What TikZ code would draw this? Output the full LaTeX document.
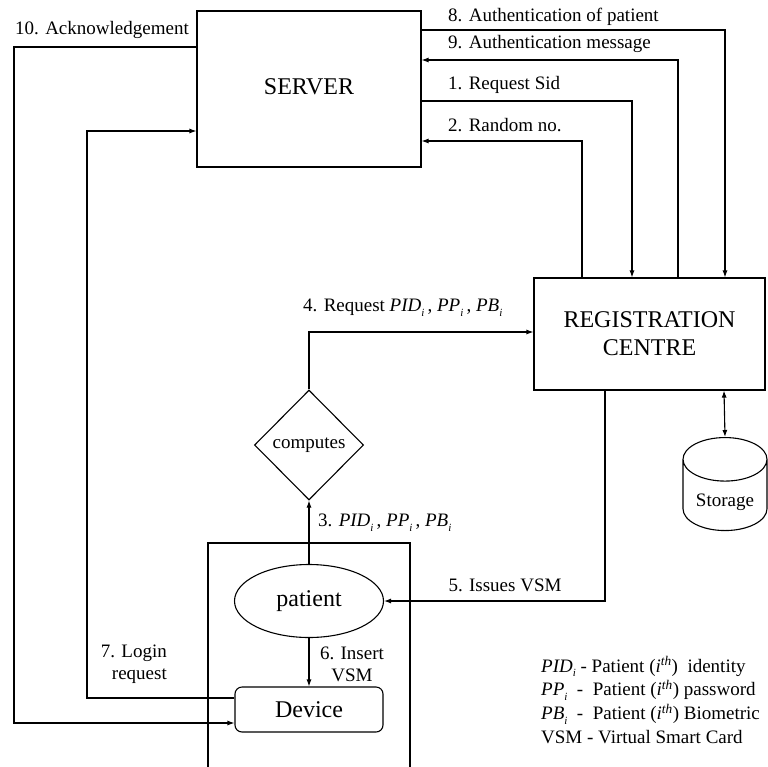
\documentclass[tikz,border=0pt]{standalone}
\usepackage{fontspec}
\setmainfont{Liberation Serif}
\usetikzlibrary{arrows.meta,calc,positioning,shapes.geometric}

% italic symbol with a low subscript i
\newcommand{\symi}[1]{\textit{#1}\raisebox{-0.55ex}{\fontsize{11}{11}\selectfont\textit{i}}}
\newcommand{\ith}{(\textit{i}\textsuperscript{\textit{th}})}

\tikzset{
  box/.style={draw,line width=1.1pt,inner sep=0pt,font=\fontsize{24}{28}\selectfont},
  lbl/.style={inner sep=0pt,font=\fontsize{19}{22}\selectfont},
  wire/.style={line width=1.1pt},
  arr/.style={wire,-{Latex[length=7pt,width=5pt]}}
}

\begin{document}
\begin{tikzpicture}[x=1pt,y=-1pt]
  \useasboundingbox (0,0) rectangle (768,766);

  % main blocks
  \node[box,minimum width=224,minimum height=156] (server) at (309,89)
    {\raisebox{5pt}{SERVER}};
  \node[box,minimum width=231,minimum height=112,align=center]
    (reg) at (649.5,334) {REGISTRATION\\CENTRE};
  \node[box,diamond,minimum width=109,minimum height=110,
    font=\fontsize{19}{22}\selectfont] (comp) at (309,445) {computes};
  \node[box,ellipse,minimum width=149,minimum height=73] (patient) at (309,601) {patient};
  \node[box,rounded corners=7pt,minimum width=148,minimum height=45]
    (device) at (309,709.5) {Device};
  \node[box,cylinder,shape border rotate=90,aspect=0.75,minimum width=84,
    minimum height=93,anchor=north,font=\fontsize{19}{22}\selectfont] (stor) at (725,437)
    {\raisebox{-11.5pt}[0pt][0pt]{Storage}};

  % patient side frame
  \draw[wire] (208,772) -- (208,543) -- (410,543) -- (410,772);

  % server <-> registration centre
  \draw[arr] (server.east |- 0,30) -| (reg.north -| 725,0);
  \draw[arr] (reg.north -| 678,0) |- (server.east |- 0,60);
  \draw[arr] (server.east |- 0,101) -| (reg.north -| 632,0);
  \draw[arr] (reg.north -| 582,0) |- (server.east |- 0,141);
  \node[lbl,anchor=west] (l8) at (448,17) {8. Authentication of patient};
  \node[lbl,anchor=west] (l9) at (448,44) {9. Authentication message};
  \node[lbl,anchor=west] (l1) at (448,85) {1. Request Sid};
  \node[lbl,anchor=west] (l2) at (448,125) {2. Random no.};

  % patient flow
  \draw[arr] (patient.north) -- (comp.south);
  \node[lbl,anchor=west] (l3) at (318,523) {3. \symi{PID}\,, \symi{PP}\,, \symi{PB}};
  \draw[arr] (comp.north) |- (reg.west |- 0,332);
  \node[lbl,anchor=west] (l4) at (303,308) {4. Request \symi{PID}\,, \symi{PP}\,, \symi{PB}};
  \draw[arr] (reg.south -| 605,0) |- (patient.east);
  \node[lbl] (l5) at (505,585) {5. Issues VSM};
  \draw[arr] (patient.south) -- (device.north);
  \node[lbl,align=center] (l6) at (352,664) {6. Insert\\VSM};

  % login and acknowledgement
  \draw[arr] (device.west |- 0,698) -| (87,131) -- (server.west |- 0,131);
  \node[lbl,align=right,anchor=east] (l7) at (167,664) {7. Login\\request};
  \draw[arr] (server.west |- 0,47) -- (14,47) |- (device.west |- 0,723);
  \node[lbl,anchor=west] (l10) at (15,30) {10. Acknowledgement};

  % storage link
  \draw[wire,{Latex[length=7pt,width=5pt]}-{Latex[length=7pt,width=5pt]}]
    (reg.south -| 724,0) -- (stor.north);

  % legend
  \node[lbl,align=left,anchor=west,font=\fontsize{19}{23.7}\selectfont] (key) at (541,700)
    {\symi{PID} - Patient \ith{}\ \ identity\\
     \symi{PP} \ - \ Patient \ith{} password\\
     \symi{PB} \ - \ Patient \ith{} Biometric\\
     VSM - Virtual Smart Card};
\end{tikzpicture}
\end{document}
